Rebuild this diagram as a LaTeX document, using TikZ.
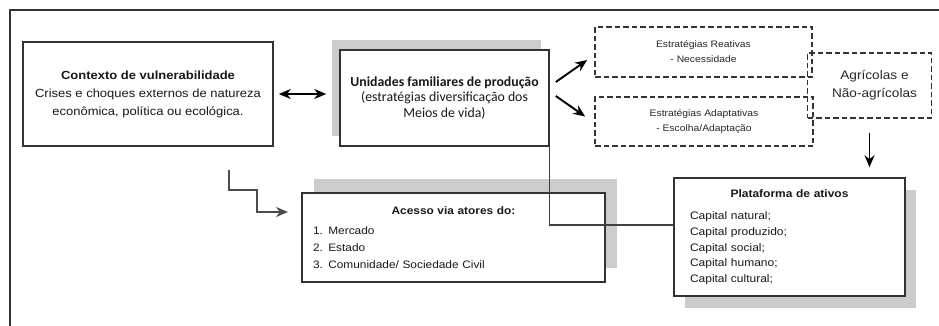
\documentclass[tikz,border=0pt]{standalone}
\usepackage{fontspec}
\setmainfont{Liberation Sans}[FakeStretch=1.1]
\newfontfamily\calfont{Carlito}
\usetikzlibrary{arrows.meta,shadows,calc}

\tikzset{
	box/.style={rectangle, draw=black!80, line width=1.6pt, fill=white, inner sep=0pt, align=center, text=black!90},
	dashbox/.style={rectangle, draw=black!80, line width=1.7pt, dash pattern=on 5.5pt off 3pt, inner sep=0pt, align=center, text=black!85},
	arr/.style={-{Stealth[length=12pt,width=10pt]}, line width=1.9pt},
	dblarr/.style={{Stealth[length=12pt,width=10pt]}-{Stealth[length=12pt,width=10pt]}, line width=1.9pt},
	link/.style={line width=1.2pt, draw=black!75},
	elbow/.style={-{Stealth[length=12pt,width=10pt]}, line width=2pt, draw=black!70},
}

\begin{document}
\begin{tikzpicture}[x=1pt,y=-1pt]
	\useasboundingbox (0,0) rectangle (939,326);
	% frame
	\draw[line width=1.6pt, black!80] (10,326) -- (10,10) -- (939,10);

	\node[box, minimum width=250pt, minimum height=104pt, font=\fontsize{11.8}{18}\selectfont] (contexto) at (148,94)
		{\textbf{Contexto de vulnerabilidade}\\Crises e choques externos de natureza\\econômica, política ou ecológica.};
	\node[box, minimum width=209pt, minimum height=96pt, font=\calfont\fontsize{13.8}{15.5}\selectfont,
		drop shadow={shadow xshift=-8pt, shadow yshift=10pt, fill=black!20, opacity=1}] (unidades) at (444.5,98)
		{\textbf{Unidades familiares de produção}\\(estratégias diversificação dos\\Meios de vida)};

	\node[dashbox, minimum width=217pt, minimum height=50pt, font=\fontsize{9.4}{15}\selectfont] (reativas) at (703.5,52)
		{Estratégias Reativas\\- Necessidade};
	\node[dashbox, minimum width=218pt, minimum height=49pt, font=\fontsize{9.4}{15}\selectfont] (adaptativas) at (704,121.5)
		{Estratégias Adaptativas\\- Escolha/Adaptação};
	\node[dashbox, minimum width=124pt, minimum height=65pt, font=\fontsize{12.4}{18}\selectfont] (agricolas) at (869.5,85.5)
		{\hspace*{10pt}Agrícolas e\\\hspace*{10pt}Não-agrícolas};

	\node[box, inner xsep=11pt, text width=281pt, minimum height=89pt, align=left, font=\fontsize{10.8}{17}\selectfont,
		drop shadow={shadow xshift=12pt, shadow yshift=14pt, fill=black!20, opacity=1}] (acesso) at (453.5,237.5)
		{\makebox[\linewidth]{\bfseries Acesso via atores do:}\\[3pt]1. Mercado\\2. Estado\\3. Comunidade/ Sociedade Civil};
	\node[box, inner xsep=16pt, text width=199pt, minimum height=118pt, align=left, font=\fontsize{10.9}{15.7}\selectfont,
		drop shadow={shadow xshift=11pt, shadow yshift=-12pt, fill=black!20, opacity=1}] (plataforma) at (789.5,237)
		{\makebox[\linewidth]{\bfseries Plataforma de ativos}\\[7pt]Capital natural;\\Capital produzido;\\Capital social;\\Capital humano;\\Capital cultural;};

	% connectors
	\draw[dblarr, shorten <=5pt, shorten >=13pt] (contexto.east) -- (contexto.east -| unidades.west);
	\draw[arr] ($(unidades.east)+(6,-16)$) -- ($(reativas.west)+(-7,8)$);
	\draw[arr] ($(unidades.east)+(6,-2)$) -- ($(adaptativas.west)+(-9,-5)$);
	\draw[arr] ($(agricolas.south)+(0,14)$) -- ($(agricolas.south |- plataforma.north)+(0,-10)$);
	\draw[link] (unidades.south east) |- ($(plataforma.west)+(0,-12)$);

	\coordinate (k0) at (229,170);
	\coordinate (k1) at (288,212);
	\draw[elbow] (k0) |- (257,190) |- (k1);
\end{tikzpicture}
\end{document}
